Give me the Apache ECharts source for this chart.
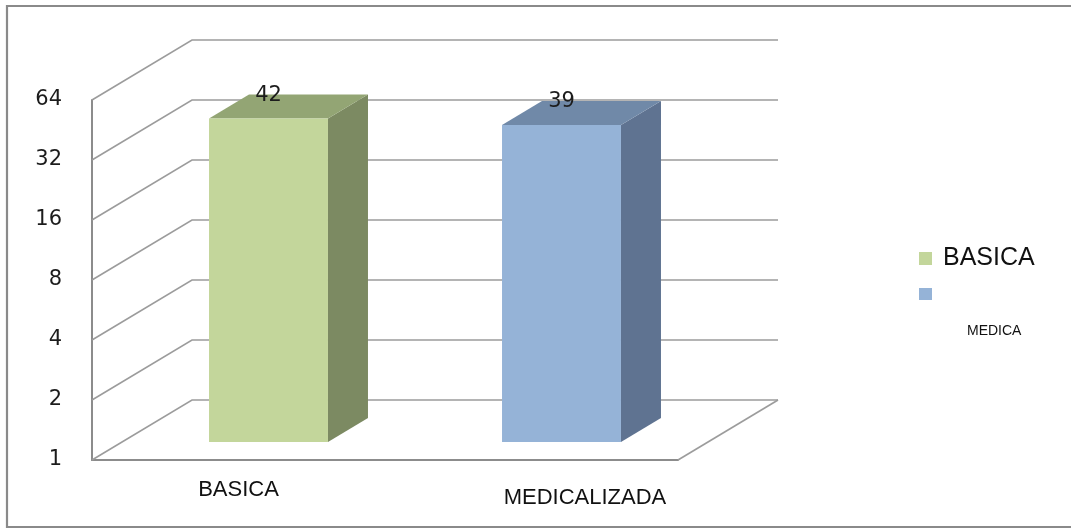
<!DOCTYPE html>
<html>
<head>
<meta charset="utf-8">
<title>BASICA / MEDICALIZADA</title>
<script src="https://cdn.jsdelivr.net/npm/echarts@6/dist/echarts.min.js"></script>
<style>
  html, body { margin: 0; padding: 0; background: #ffffff; }
  #chart { width: 1071px; height: 529px; }
</style>
</head>
<body>
<div id="chart"></div>
<script>
// Data
const CATEGORIES = ['BASICA', 'MEDICALIZADA'];
const VALUES = [42, 39];
const Y_TICKS = [1, 2, 4, 8, 16, 32, 64];
const LEGEND_TEXT = ['BASICA', 'MEDICA'];

// Styling
const FRONT = ['#c3d69b', '#95b3d7'];
const SIDE = ['#7c8a62', '#5f7391'];
const TOP = ['#93a574', '#7089a8'];
const GRID_COLOR = '#9c9c9c';
const DEPTH = [100, -60];      // offset from front plane to back wall, px
const BAR_FRONT = 0.3;         // depth fraction where the bar front face sits
const BAR_DEPTH = 0.4;         // depth fraction taken by the bar
const BAR_WIDTH = 0.406;       // share of the category band

const chart = echarts.init(document.getElementById('chart'), null, { renderer: 'canvas' });

// Back wall gridlines, the left-side diagonals and the floor edge
function renderWalls(params, api) {
  const cs = params.coordSys;
  const v = api.value(1);
  const y = api.coord([0, v])[1];
  const left = cs.x, right = cs.x + cs.width;
  const style = { stroke: GRID_COLOR, lineWidth: 1.6, fill: null };
  const children = [{
    type: 'polyline',
    shape: { points: [[left, y], [left + DEPTH[0], y + DEPTH[1]], [right + DEPTH[0], y + DEPTH[1]]] },
    style: style
  }];
  if (v === Y_TICKS[0]) {
    children.push({
      type: 'line',
      shape: { x1: right, y1: y, x2: right + DEPTH[0], y2: y + DEPTH[1] },
      style: style
    });
  }
  return { type: 'group', children: children };
}

// Prism bar: front face, right side, top face and value label
function makeBarRenderer(idx) {
  return function (params, api) {
    const cat = api.value(0);
    const val = api.value(1);
    const top = api.coord([cat, val]);
    const base = api.coord([cat, Y_TICKS[0]]);
    const band = api.size([1, 0])[0];
    const w = band * BAR_WIDTH;
    const sx = DEPTH[0] * BAR_FRONT, sy = DEPTH[1] * BAR_FRONT;
    const dx = DEPTH[0] * BAR_DEPTH, dy = DEPTH[1] * BAR_DEPTH;
    const cx = top[0] + sx;
    const xl = cx - w / 2, xr = cx + w / 2;
    const yt = top[1] + sy, yb = base[1] + sy;
    return {
      type: 'group',
      children: [
        {
          type: 'polygon',
          shape: { points: [[xr, yt], [xr + dx, yt + dy], [xr + dx, yb + dy], [xr, yb]] },
          style: { fill: SIDE[idx] }
        },
        {
          type: 'polygon',
          shape: { points: [[xl, yt], [xl + dx, yt + dy], [xr + dx, yt + dy], [xr, yt]] },
          style: { fill: TOP[idx] }
        },
        {
          type: 'rect',
          shape: { x: xl, y: yt, width: w, height: yb - yt },
          style: { fill: FRONT[idx] }
        },
        {
          type: 'text',
          x: cx, y: yt - 23,
          style: {
            text: String(val), align: 'center', verticalAlign: 'middle',
            fontFamily: 'DejaVu Sans', fontSize: 21, fill: '#1c1c1c'
          }
        }
      ]
    };
  };
}

const option = {
  backgroundColor: '#ffffff',
  animation: false,
  graphic: [{
    type: 'rect',
    shape: { x: 7, y: 6, width: 1090, height: 521 },
    style: { fill: null, stroke: '#8a8a8a', lineWidth: 2.2 },
    silent: true,
    z: 100
  }],
  grid: { left: 92, top: 100, width: 586, height: 360, containLabel: false },
  legend: [
    {
      data: [CATEGORIES[0]],
      left: 914, top: 241,
      icon: 'rect', itemWidth: 13, itemHeight: 13,
      formatter: () => LEGEND_TEXT[0],
      textStyle: { fontFamily: 'Liberation Sans', fontSize: 25, color: '#111111', padding: [0, 0, 0, 6] },
      selectedMode: false
    },
    {
      data: [CATEGORIES[1]],
      left: 914, top: 283,
      icon: 'rect', itemWidth: 13, itemHeight: 12,
      formatter: () => '{m|' + LEGEND_TEXT[1] + '}',
      textStyle: {
        rich: {
          m: { fontFamily: 'Liberation Sans', fontSize: 14, color: '#111111', padding: [75, 0, 0, 30] }
        }
      },
      selectedMode: false
    }
  ],
  xAxis: {
    type: 'category',
    data: CATEGORIES,
    boundaryGap: true,
    axisLine: { show: true, lineStyle: { color: '#8c8c8c', width: 2 } },
    axisTick: { show: false },
    splitLine: { show: false },
    axisLabel: {
      margin: 19,
      formatter: (v) => v === CATEGORIES[1] ? '{b|' + v + '}' : '{a|' + v + '}',
      rich: {
        a: { fontFamily: 'Liberation Sans', fontSize: 22, color: '#111111' },
        b: { fontFamily: 'Liberation Sans', fontSize: 22, color: '#111111', padding: [8, 0, 0, 107] }
      }
    }
  },
  yAxis: {
    type: 'log',
    logBase: 2,
    min: Y_TICKS[0],
    max: Y_TICKS[Y_TICKS.length - 1],
    axisLine: { show: true, lineStyle: { color: '#8c8c8c', width: 2 } },
    axisTick: { show: false },
    splitLine: { show: false },
    axisLabel: {
      margin: 30,
      fontFamily: 'DejaVu Sans', fontSize: 21, color: '#1c1c1c',
      formatter: (v) => String(Math.round(v))
    }
  },
  series: [
    {
      type: 'custom',
      name: 'walls',
      silent: true,
      clip: false,
      z: 1,
      renderItem: renderWalls,
      encode: { x: 0, y: 1 },
      data: Y_TICKS.map((t) => [0, t])
    },
    {
      type: 'custom',
      name: CATEGORIES[0],
      clip: false,
      z: 5,
      itemStyle: { color: FRONT[0] },
      renderItem: makeBarRenderer(0),
      encode: { x: 0, y: 1 },
      data: [[0, VALUES[0]]]
    },
    {
      type: 'custom',
      name: CATEGORIES[1],
      clip: false,
      z: 5,
      itemStyle: { color: FRONT[1] },
      renderItem: makeBarRenderer(1),
      encode: { x: 0, y: 1 },
      data: [[1, VALUES[1]]]
    }
  ]
};

chart.setOption(option);
</script>
</body>
</html>
